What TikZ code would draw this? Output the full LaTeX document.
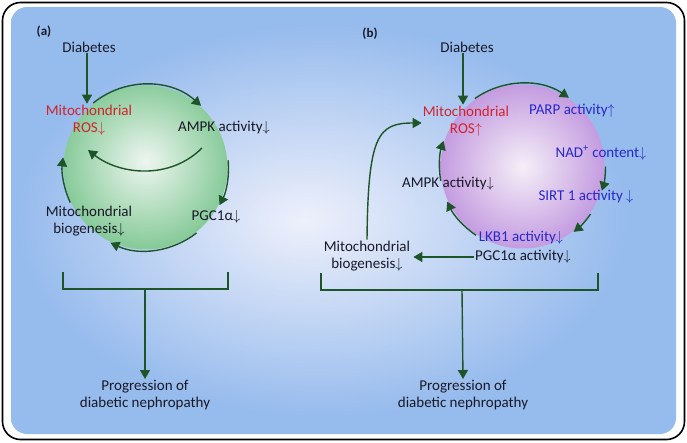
\documentclass[tikz,border=0pt]{standalone}
\usepackage{fontspec}
\setmainfont{Carlito}
\usetikzlibrary{arrows.meta}
\definecolor{panelblue}{RGB}{150,187,237}
\definecolor{panellight}{RGB}{238,240,251}
\definecolor{ballgreen}{RGB}{136,203,154}
\definecolor{balllight}{RGB}{238,246,240}
\definecolor{ballpurple}{RGB}{196,156,224}
\definecolor{ballpale}{RGB}{245,239,248}
\definecolor{arrowgreen}{RGB}{30,85,40}
\definecolor{rosred}{RGB}{210,35,45}
\definecolor{pathblue}{RGB}{40,40,205}
\definecolor{txt}{RGB}{25,25,40}
\pgfdeclareradialshading{panelshade}{\pgfpoint{-3bp}{0bp}}{color(0bp)=(panellight); color(23bp)=(panelblue); color(50bp)=(panelblue)}
\pgfdeclareradialshading{greenball}{\pgfpoint{0bp}{2bp}}{color(0bp)=(balllight); color(25bp)=(ballgreen); color(50bp)=(ballgreen)}
\pgfdeclareradialshading{purpleball}{\pgfpoint{0bp}{0bp}}{color(0bp)=(ballpale); color(25bp)=(ballpurple); color(50bp)=(ballpurple)}

\begin{document}
\begin{tikzpicture}[x=1pt,y=-1pt,
    lbl/.style={text=txt, font=\fontsize{15}{17}\selectfont, align=center, inner sep=1pt},
    redlbl/.style={lbl, text=rosred},
    bluelbl/.style={lbl, text=pathblue},
    panel/.style={text=txt, font=\fontsize{13}{15}\selectfont\bfseries, inner sep=1pt},
    arr/.style={draw=arrowgreen, line width=1.4pt, -{Triangle[length=9pt,width=10pt]}},
    brk/.style={draw=arrowgreen, line width=1.4pt}]
\useasboundingbox (0,0) rectangle (687,442);
\draw[line width=1.6pt, rounded corners=18pt] (2.5,2.5) rectangle (684.5,439.5);
\shade[shading=panelshade, rounded corners=16pt] (11,7) rectangle (676,434);

% panel (a)
\coordinate (ca) at (145.5,167.5);
\shade[shading=greenball] (ca) circle[radius=82];
\node[panel] (laba) at (44,32) {(a)};
\node[lbl] (diaba) at (89,47) {Diabetes};
\node[redlbl] (rosa) at (89,120) {Mitochondrial\\ROS$\downarrow$};
\node[lbl] (ampka) at (224,128) {AMPK activity$\downarrow$};
\node[lbl] (pgca) at (216,217) {PGC1α$\downarrow$};
\node[lbl] (bioa) at (89,221) {Mitochondrial\\biogenesis$\downarrow$};
\node[lbl, anchor=north] (proga) at (145,379) {Progression of\\diabetic nephropathy};
\coordinate (ia) at (202,148);
\coordinate (ib) at (88,150);
\draw[arr] ([xshift=-2pt]diaba.south) -- ([xshift=-2pt]diaba.south |- rosa.north);
\draw[arr] (ca) ++(-129:83) arc[start angle=-129, end angle=-48, radius=83];
\draw[arr] (ca) ++(-5:83) arc[start angle=-5, end angle=27, radius=83];
\draw[arr] (ca) ++(52:83) arc[start angle=52, end angle=115, radius=83];
\draw[arr] (ca) ++(155:83) arc[start angle=155, end angle=187, radius=83];
\draw[arr] (ia) .. controls (170,180) and (120,175) .. (ib);
\coordinate (bla) at (63,272);
\coordinate (bra) at (228,272);
\coordinate (sta) at (145,289);
\draw[brk] (bla) -- ++(0,17) -- ([yshift=-17pt]bra) -- (bra);
\draw[arr] (sta) -- (proga.north);

% panel (b)
\coordinate (cb) at (522.5,166.5);
\shade[shading=purpleball] (cb) circle[radius=82];
\node[panel] (labb) at (370,34) {(b)};
\node[lbl] (diabb) at (467,47) {Diabetes};
\node[redlbl] (rosb) at (466,121) {Mitochondrial\\ROS$\uparrow$};
\node[bluelbl] (parp) at (572,111) {PARP activity$\uparrow$};
\node[bluelbl] (nad) at (601,153) {NAD\textsuperscript{+} content$\downarrow$};
\node[bluelbl] (sirt) at (586,197) {SIRT 1 activity $\downarrow$};
\node[bluelbl] (lkb) at (521,238) {LKB1 activity$\downarrow$};
\node[lbl] (pgcb) at (523,257) {PGC1α activity$\downarrow$};
\node[lbl] (ampkb) at (448,184) {AMPK activity$\downarrow$};
\node[lbl] (biob) at (367,256) {Mitochondrial\\biogenesis$\downarrow$};
\node[lbl, anchor=north] (progb) at (463,379) {Progression of\\diabetic nephropathy};
\draw[arr] ([xshift=-4pt]diabb.south) -- ([xshift=-4pt]diabb.south |- rosb.north);
\draw[arr] (cb) ++(-125:83) arc[start angle=-125, end angle=-56, radius=83];
\draw[arr] (cb) ++(0:83) arc[start angle=0, end angle=17, radius=83];
\draw[arr] (cb) ++(35:83) arc[start angle=35, end angle=52, radius=83];
\draw[arr] (cb) ++(124:83) arc[start angle=124, end angle=155, radius=83];
\draw[arr] (cb) ++(170:83) arc[start angle=170, end angle=198, radius=83];
\draw[arr] (pgcb.west) -- ([xshift=2pt]pgcb.west -| biob.east);
\draw[arr] (biob.north) .. controls (368,135) and (378,123) .. (rosb.west |- 0,123);
\coordinate (blb) at (321,273);
\coordinate (brb) at (598,273);
\coordinate (stb) at (462,290);
\draw[brk] (blb) -- ++(0,17) -- ([yshift=-17pt]brb) -- (brb);
\draw[arr] (stb) -- (progb.north);
\end{tikzpicture}
\end{document}
